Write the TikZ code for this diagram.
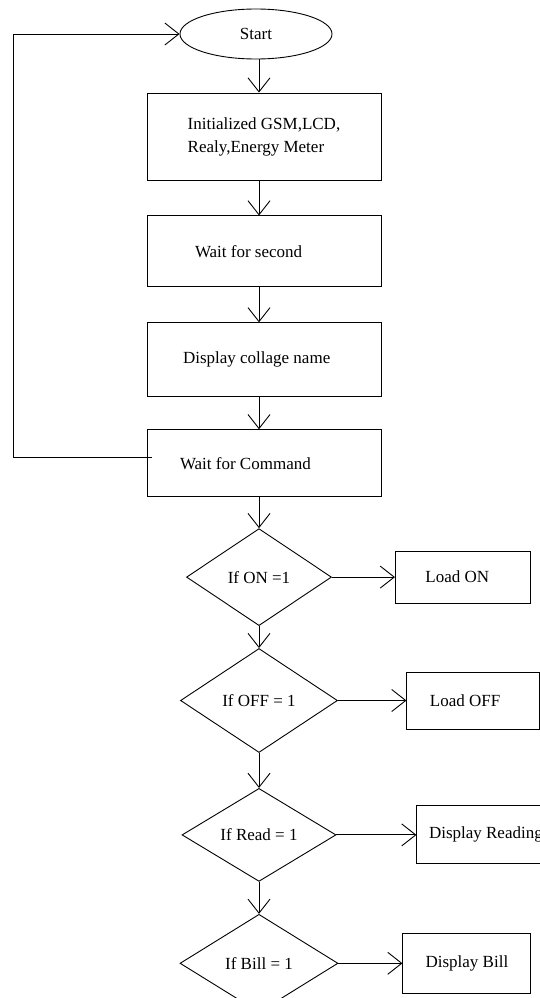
\documentclass[tikz,border=0pt]{standalone}
\usepackage{fontspec}
\setmainfont{Liberation Serif}
\usepackage{tikz}
\usetikzlibrary{shapes.geometric, arrows.meta, positioning}

\begin{document}
\begin{tikzpicture}[x=1pt, y=-1pt,
  font=\fontsize{17}{23}\selectfont,
  box/.style={draw, line width=0.9pt, minimum width=234pt, align=flush left, inner sep=0pt},
  sidebox/.style={draw, line width=0.9pt, align=center, inner sep=0pt},
  term/.style={draw, ellipse, line width=0.9pt, minimum width=152pt, minimum height=50pt, inner sep=0pt},
  cond/.style={draw, diamond, line width=0.9pt, inner sep=0pt},
  arrow/.style={-{Straight Barb[length=14pt, width=22pt]}, line width=0.9pt}]
  \useasboundingbox (0,0) rectangle (540,998);
  % main column
  \node[term] (start) at (256,34) {Start};
  \node[box, minimum height=87pt] (init) at (264,136.5) {Initialized GSM,LCD,\\Realy,Energy Meter};
  \node[box, minimum height=71pt, text width=138pt, below=35pt of init] (wait) {Wait for second};
  \node[box, minimum height=74pt, text width=162pt, below=35pt of wait] (disp) {Display collage name};
  \node[box, minimum height=67pt, text width=168pt, below=32pt of disp] (cmd) {Wait for Command};
  % decisions
  \node[cond, minimum width=145pt, minimum height=97pt, below=31pt of cmd, xshift=-5pt] (on) {If ON =1};
  \node[cond, minimum width=157pt, minimum height=104pt, below=22pt of on] (off) {If OFF = 1};
  \node[cond, minimum width=154pt, minimum height=93pt, below=35pt of off] (read) {If Read = 1};
  \node[cond, minimum width=158pt, minimum height=98pt, below=32pt of read] (bill) {If Bill = 1};
  % actions
  \node[sidebox, minimum width=135pt, minimum height=52pt, text width=75pt, align=flush left, right=63pt of on] (loadon) {Load ON};
  \node[sidebox, minimum width=133pt, minimum height=57pt, text width=87pt, align=flush left, right=68.5pt of off] (loadoff) {Load OFF};
  \node[sidebox, minimum width=138pt, minimum height=58pt, right=80pt of read] (reading) {Display Reading};
  \node[sidebox, minimum width=128pt, minimum height=60pt, right=64pt of bill] (showbill) {Display Bill};
  \coordinate (back) at (13,457);
  \draw[arrow] (start.south -| on) -- (init.north -| on);
  \draw[arrow] (init.south -| on) -- (wait.north -| on);
  \draw[arrow] (wait.south -| on) -- (disp.north -| on);
  \draw[arrow] (disp.south -| on) -- (cmd.north -| on);
  \draw[arrow] (cmd.south -| on) -- (on.north);
  \draw[arrow] (on) -- (off);
  \draw[arrow] (off) -- (read);
  \draw[arrow] (read) -- (bill);
  \draw[arrow] (on) -- (loadon);
  \draw[arrow] (off) -- (loadoff);
  \draw[arrow] (read) -- (reading);
  \draw[arrow] (bill) -- (showbill);
  \draw[arrow] ([xshift=5pt]cmd.west |- back) -- (back) |- (start.west);
\end{tikzpicture}
\end{document}
